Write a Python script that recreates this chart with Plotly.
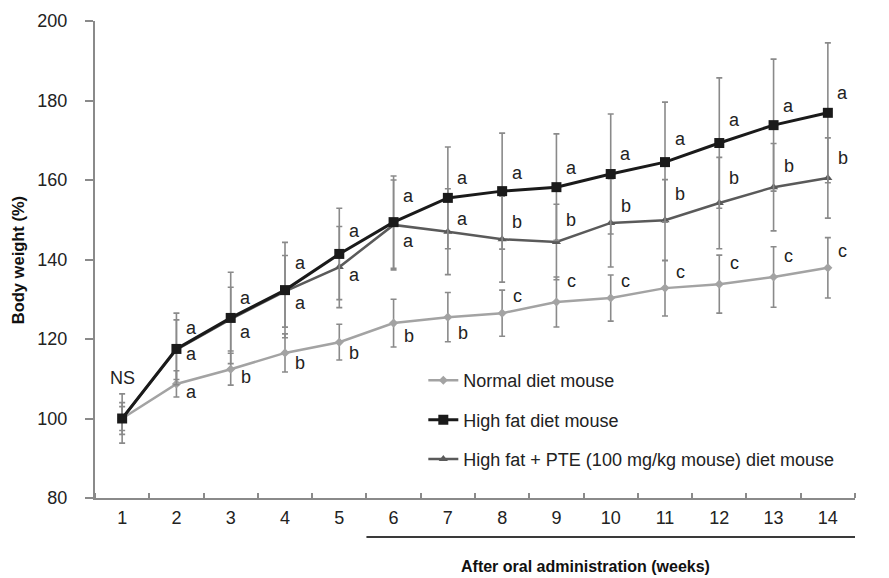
import plotly.graph_objects as go

weeks = list(range(1, 15))

normal = [100, 108.7, 112.4, 116.5, 119.2, 124, 125.5, 126.5, 129.3, 130.3, 132.8, 133.8, 135.6, 137.9]
normal_err = [4, 3.3, 4, 4.8, 4.5, 6, 6.2, 5.8, 6.3, 5.8, 7, 7.3, 7.6, 7.6]
high_fat = [100, 117.5, 125.3, 132.3, 141.4, 149.4, 155.5, 157.2, 158.2, 161.5, 164.5, 169.3, 173.8, 176.9]
high_fat_err = [6.2, 9, 11.5, 12, 11.5, 11.6, 12.8, 14.6, 13.4, 15.1, 15.1, 16.4, 16.6, 17.6]
pte = [100, 117.3, 125, 132, 138.1, 148.7, 147, 145.1, 144.4, 149.2, 149.9, 154.2, 158.2, 160.5]
pte_err = [3, 7.5, 8, 9, 10.2, 11.3, 10.8, 10.8, 9.5, 11.1, 10.2, 11.5, 11, 10.1]

normal_letters = ["", "a", "b", "b", "b", "b", "b", "c", "c", "c", "c", "c", "c", "c"]
high_fat_letters = ["", "a", "a", "a", "a", "a", "a", "a", "a", "a", "a", "a", "a", "a"]
pte_letters = ["", "a", "a", "a", "a", "a", "a", "b", "b", "b", "b", "b", "b", "b"]

names = ["Normal diet mouse", "High fat diet mouse", "High fat + PTE (100 mg/kg mouse) diet mouse"]

# label offsets in pixels (style)
normal_dy = [0, -8, -8, -10, -11, -13, -16, 17, 21, 17, 16, 21, 21, 17]
high_fat_dy = [0, 21, 20, 27, 23, 26, 20, 18, 19, 20, 23, 23, 19, 20]
pte_dy = [0, -4, -13, -12, -8, -16, 13, 17, 22, 17, 26, 25, 21, 20]

FONT = "Liberation Sans, Arial, sans-serif"
ERR_COLOR = "#8a8a8a"

fig = go.Figure()

def add_series(y, err, name, color, symbol, size, rank, width):
    fig.add_trace(go.Scatter(
        x=weeks, y=y, name=name, mode="lines+markers",
        line=dict(color=color, width=width),
        marker=dict(symbol=symbol, size=size, color=color),
        error_y=dict(type="data", array=err, visible=True, color=ERR_COLOR, thickness=1.6, width=3),
        legendgroup=name, legendrank=rank,
    ))

add_series(normal, normal_err, names[0], "#a3a3a3", "diamond", 7, 1, 2.5)
add_series(pte, pte_err, names[2], "#5a5a5a", "triangle-up", 8, 3, 2.5)
add_series(high_fat, high_fat_err, names[1], "#1a1a1a", "square", 10, 2, 3)

annotations = []
for ys, letters, dys in [(normal, normal_letters, normal_dy), (high_fat, high_fat_letters, high_fat_dy), (pte, pte_letters, pte_dy)]:
    for w, v, t, dy in zip(weeks, ys, letters, dys):
        if t:
            annotations.append(dict(x=w, y=v, text=t, showarrow=False, xshift=15, yshift=dy,
                                    font=dict(family=FONT, size=18, color="#222")))

annotations.append(dict(x=1, y=110.2, text="NS", showarrow=False, font=dict(family=FONT, size=18, color="#222")))
annotations.append(dict(x=0.645, y=-0.143, xref="paper", yref="paper", text="<b>After oral administration (weeks)</b>",
                        showarrow=False, yanchor="middle", font=dict(family=FONT, size=16, color="#111")))
annotations.append(dict(x=-0.101, y=0.499, xref="paper", yref="paper", text="<b>Body weight (%)</b>", textangle=-90,
                        showarrow=False, xanchor="center", yanchor="middle", font=dict(family=FONT, size=16.5, color="#111")))

fig.add_shape(type="line", xref="x", yref="paper", x0=5.5, x1=14.5, y0=-0.082, y1=-0.082,
              line=dict(color="#3a3a3a", width=2))

fig.update_layout(
    width=889, height=578,
    margin=dict(l=95, r=34, t=21, b=80),
    paper_bgcolor="white", plot_bgcolor="white",
    font=dict(family=FONT, size=18, color="#222"),
    showlegend=True,
    legend=dict(x=0.432, y=0.285, xanchor="left", yanchor="top", traceorder="grouped", tracegroupgap=13,
                bgcolor="rgba(0,0,0,0)", font=dict(family=FONT, size=18, color="#222"), itemwidth=30),
    annotations=annotations,
    xaxis=dict(range=[0.5, 14.5], tickvals=weeks, ticktext=[str(w) for w in weeks], ticks="",
               showgrid=False, zeroline=False, showline=True, linecolor="#8a8a8a", linewidth=2,
               minor=dict(ticks="inside", tick0=0.5, dtick=1, ticklen=5, tickcolor="#8a8a8a", tickwidth=1.5, showgrid=False),
               ticklabelstandoff=2, tickfont=dict(family=FONT, size=18, color="#222")),
    yaxis=dict(range=[80, 200], tickvals=[80, 100, 120, 140, 160, 180, 200], ticks="outside", ticklen=8,
               tickcolor="#8a8a8a", tickwidth=1.5, showgrid=False, zeroline=False, showline=True,
               linecolor="#8a8a8a", linewidth=2, ticklabelstandoff=14,
               tickfont=dict(family=FONT, size=18, color="#222")),
)

fig.write_html("out.html", config={"displayModeBar": False},
               post_script="document.body.style.margin='0';document.body.style.overflow='hidden';")
